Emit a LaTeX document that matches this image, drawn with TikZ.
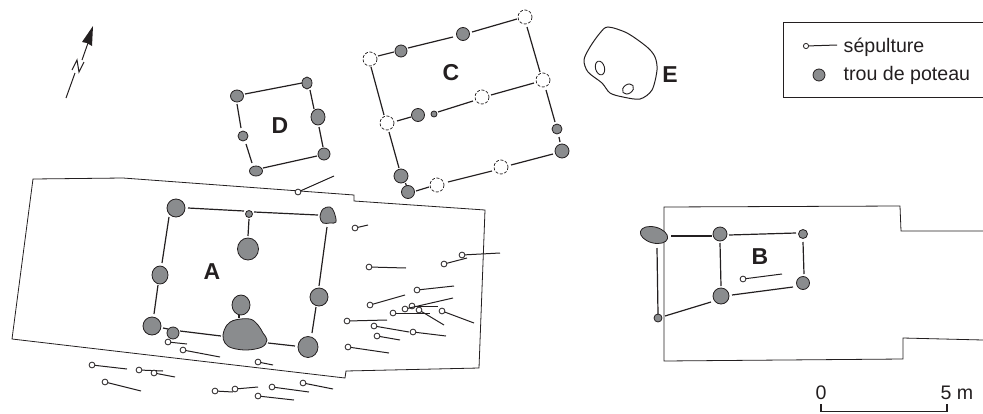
\documentclass[tikz,border=0pt]{standalone}
\usepackage{fontspec}
\setmainfont{Liberation Sans}
\definecolor{ink}{HTML}{231F20}
\definecolor{holegrey}{HTML}{8A8C8E}
\tikzset{
 outline/.style={draw=ink,line width=0.8pt,line join=miter},
 wall/.style={draw=ink,line width=1.2pt},
 holeshape/.style={draw=ink,line width=0.8pt,fill=holegrey},
 ghost/.style={draw=ink,line width=0.7pt,dash pattern=on 3pt off 1.6pt,fill=white},
 gravebody/.style={draw=ink,line width=1pt},
 gravehead/.style={draw=ink,line width=0.8pt,fill=white},
 biglabel/.style={text=ink,inner sep=0pt,font=\fontsize{23}{25}\selectfont\bfseries},
 smalllabel/.style={text=ink,inner sep=0pt,font=\fontsize{19.6}{22}\selectfont},
}
\begin{document}
\begin{tikzpicture}[x=1pt,y=-1pt]
\useasboundingbox (0,0) rectangle (983,413);
% excavation outlines
\draw[outline] (33,179) -- (123,178) -- (354,195) -- (354,201) -- (485,210) -- (479,368) -- (346,371) -- (345,378) -- (12,339) -- cycle;
\draw[outline] (983,231) -- (901,231) -- (900,206) -- (664,207) -- (664,361) -- (903,359) -- (903,338) -- (983,340);
% walls
\foreach \a/\b/\c/\d in {
 188/208/244/211, 254/212/318/215, 169/217/162/263, 158/285/154/314, 327/227/319/286,
 316/307/312/333, 163/328/168/329, 180/331/221/336, 268/343/295/346, 249/219/248/236, 239/315/239/318,
 378/56/394/52, 408/48/453/37, 472/32/517/19, 371/67/384/115, 389/132/399/168, 527/27/540/72,
 546/90/555/122, 559/137/560/142, 397/121/411/117, 438/112/473/101, 491/95/534/83,
 416/191/429/187, 448/182/492/171, 511/165/553/154, 405.5/183/406.5/186,
 671/236/712/236, 729/235/796/233, 720/243/721/286, 803/242/804/274, 657/248/658/314, 665/316/711/302, 732/295/793/287,
 245/94/302/83, 237/104/241/128, 246/144/252/163, 310/90/314/109, 319/127/323/147, 263/168/317/156}
 \draw[wall] (\a,\b) -- (\c,\d);
% post holes
\foreach \x/\y/\rx/\ry in {
 176/208/9/9, 249/214/3.5/3.5, 248/249/10.5/11, 160/275/8/9, 319/297/9/9, 241/305/9/10, 152/326/9/9, 173/333/6/6, 308/347/10/10.5,
 401/51/6/6, 463/34/6.5/6.5, 418/115/6.5/6.5, 434/114/3/3, 557/129/5/5, 562/151/7/7, 401/176/7/7, 408/192/6.5/6.5,
 720/234/7/7, 803/234/4.5/4.5, 803/283/6.5/6.5, 721/296/8/8, 658/318/4/4,
 237/96/6.5/6, 307/83/5/6, 318/117/7/8, 243/136/5/5, 324/154/6/6, 256/171/6.5/5}
 \draw[holeshape] (\x,\y) ellipse [x radius=\rx, y radius=\ry];
\draw[holeshape,rotate around={-15:(654,235)}] (654,235) ellipse [x radius=14, y radius=8];
\draw[holeshape] plot[smooth cycle,tension=0.6] coordinates {(223,335)(227,325)(235,320)(250,319)(258,325)(263,333)(267,340)(262,347)(247,350)(232,348)(225,343)};
\draw[holeshape] plot[smooth cycle,tension=0.6] coordinates {(320,217)(323,209)(330,207)(334,212)(336,222)(330,223)(323,223)};
% uncertain post holes
\foreach \x/\y in {370/59, 525/17, 543/80, 482/97, 387/123, 437/185, 501/167}
 \draw[ghost] (\x,\y) circle [radius=7];
% burials
\foreach \a/\b/\c/\d in {
 298/192/334/176, 168/342/187/344, 183/350/220/357, 258/362/273/365, 92/365/127/369, 139/370/163/371,
 154/373/175/377, 105/382/141/391, 215/391/233/392, 235/389/258/387, 272/387/309/392, 303/383/333/389, 258/396/294/400,
 355/228/368/225, 369/267/406/268, 462/255/500/253, 444/264/467/258, 417/290/454/286, 370/305/405/295,
 412/306/438/306, 405/309/453/298, 393/313/430/313, 419/310/444/325, 442/311/474/323, 347/321/387/320,
 374/326/409/332, 413/332/446/336, 377/336/400/340, 348/347/389/353, 743/279/782/274} {
 \draw[gravebody] (\a,\b) -- (\c,\d);
 \draw[gravehead] (\a,\b) circle [radius=2.9];
}
% pit E
\draw[draw=ink,line width=1pt] plot[smooth cycle,tension=0.5] coordinates {(608,27)(627,33)(647,47)(655,57)(657,70)(652,90)(640,99)(623,97)(610,93)(602,83)(588,72)(584,60)(590,47)(600,33)};
\draw[draw=ink,line width=0.9pt,rotate around={15:(600,68)}] (600,68) ellipse [x radius=4.5, y radius=7];
\draw[draw=ink,line width=0.9pt,rotate around={35:(628,89)}] (628,89) ellipse [x radius=6, y radius=4.5];
% structure letters
\node[biglabel] (labelA) at (212,272) {A};
\node[biglabel] (labelB) at (760,257) {B};
\node[biglabel] (labelC) at (451,73) {C};
\node[biglabel] (labelD) at (280,126) {D};
\node[biglabel] (labelE) at (670,75) {E};
% north arrow
\draw[draw=ink,line width=1pt] (66,98) -- (75,73);
\draw[draw=ink,line width=1pt] (82,60) -- (88,43);
\draw[draw=ink,line width=1pt] (72,70) -- (77,60) -- (79,72) -- (84,62);
\fill[ink] (93,26) -- (82,42) -- (87,43) -- (92,46) -- cycle;
% legend
\draw[outline] (983,22) -- (783,22) -- (783,97) -- (983,97);
\draw[gravebody] (806,46) -- (837,45);
\draw[gravehead] (806,46) circle [radius=2.6];
\draw[holeshape] (819,75) circle [radius=6];
\node[smalllabel,anchor=base west] (legendA) at (843.5,52) {sépulture};
\node[smalllabel,anchor=base west] (legendB) at (843.5,80.5) {trou de poteau};
% scale
\draw[draw=ink,line width=1.8pt] (821,404) -- (821,411.5) -- (947,411.5) -- (947,404);
\node[smalllabel,anchor=base] (scale0) at (821,399) {0};
\node[smalllabel,anchor=base] (scale5) at (957,399) {5 m};
\end{tikzpicture}
\end{document}
